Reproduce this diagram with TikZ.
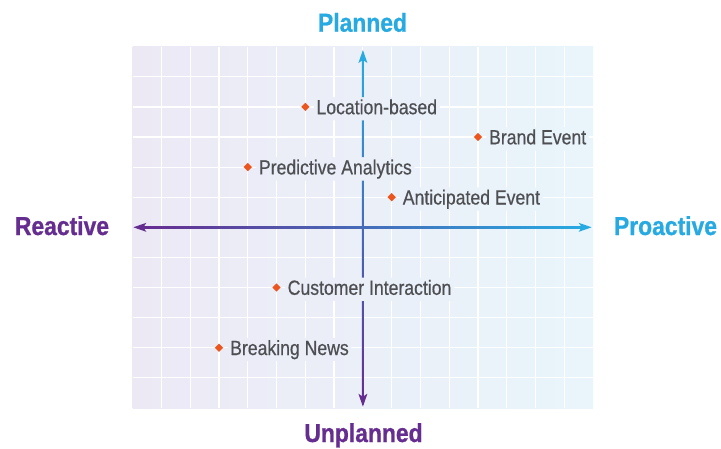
\documentclass[tikz,border=0pt]{standalone}
\usepackage{fontspec}
\setmainfont[FakeStretch=0.86,FakeBold=0.5]{Liberation Sans}
\newfontfamily\headfont[FakeStretch=0.88,BoldFeatures={FakeBold=0.8}]{Liberation Sans}
\usetikzlibrary{shapes.geometric,calc}

\definecolor{axpurple}{RGB}{102,45,145}
\definecolor{axcyan}{RGB}{39,170,225}
\definecolor{labgray}{RGB}{78,79,83}
\definecolor{dotorange}{RGB}{236,85,30}
\definecolor{bgleft}{RGB}{236,233,245}
\definecolor{bgright}{RGB}{233,245,251}

\tikzset{
  marker/.style={diamond, fill=dotorange, minimum width=8.5pt, minimum height=8.5pt, inner sep=0pt},
  pointlabel/.style={anchor=base west, text=labgray, font=\fontsize{20.5}{23}\selectfont,
    text height=15pt, text depth=4pt, inner xsep=2.5pt, inner ysep=2pt},
  heading/.style={anchor=base, font=\headfont\bfseries\fontsize{26}{29}\selectfont},
  gridline/.style={white, line width=1.2pt},
}

\begin{document}
\begin{tikzpicture}[x=1pt,y=-1pt]
  \useasboundingbox (0,0) rectangle (721,448);
  \fill[white] (0,0) rectangle (721,448);

  % plotting field
  \shade[left color=bgleft, right color=bgright] (132.7,46.7) rectangle (593,408);

  % axis ends
  \coordinate (W) at (133.3,227.3);
  \coordinate (E) at (591.7,227.3);
  \coordinate (N) at (362.9,50);
  \coordinate (S) at (362.9,406.7);

  % positions of the plotted items (grid column, row)
  \coordinate (c1) at ({132.7+6*28.77},{46.7+2*30.1});
  \coordinate (c2) at ({132.7+12*28.77},{46.7+3*30.1});
  \coordinate (c3) at ({132.7+4*28.77},{46.7+4*30.1});
  \coordinate (c4) at ({132.7+9*28.77},{46.7+5*30.1});
  \coordinate (c5) at ({132.7+5*28.77},{46.7+8*30.1});
  \coordinate (c6) at ({132.7+3*28.77},{46.7+10*30.1});

  % item labels
  \node[pointlabel] (l1) at ($(c1)+(8.5,7.3)$) {Location-based};
  \node[pointlabel] (l2) at ($(c2)+(8.5,7.3)$) {Brand Event};
  \node[pointlabel] (l3) at ($(c3)+(8.5,7.3)$) {Predictive Analytics};
  \node[pointlabel] (l4) at ($(c4)+(8.5,7.3)$) {Anticipated Event};
  \node[pointlabel] (l5) at ($(c5)+(8.5,7.3)$) {Customer Interaction};
  \node[pointlabel] (l6) at ($(c6)+(8.5,7.3)$) {Breaking News};

  % grid and axes, kept clear of the label boxes
  \begin{scope}[even odd rule]
    \clip (0,0) rectangle (721,448)
      (l1.south west) rectangle (l1.north east)
      (l2.south west) rectangle (l2.north east)
      (l3.south west) rectangle (l3.north east)
      (l4.south west) rectangle (l4.north east)
      (l5.south west) rectangle (l5.north east)
      (l6.south west) rectangle (l6.north east);
    \foreach \i in {1,...,15}
      \draw[gridline] ({132.7+\i*28.77},46.7) -- ({132.7+\i*28.77},408);
    \foreach \j in {1,...,11}
      \draw[gridline] (132.7,{46.7+\j*30.1}) -- (593,{46.7+\j*30.1});

    % horizontal axis
    \shade[left color=axpurple, right color=axcyan]
      ($(W)+(9,-1)$) rectangle ($(E)+(-9,1)$);
    \fill[axpurple] (W) -- ++(13,-4.5) -- ++(-3,4.5) -- ++(3,4.5) -- cycle;
    \fill[axcyan] (E) -- ++(-13,-4.5) -- ++(3,4.5) -- ++(-3,4.5) -- cycle;

    % vertical axis
    \shade[top color=axcyan, bottom color=axpurple]
      ($(N)+(-1,9)$) rectangle ($(S)+(1,-9)$);
    \fill[axcyan] (N) -- ++(-4.5,13) -- ++(4.5,-3) -- ++(4.5,3) -- cycle;
    \fill[axpurple] (S) -- ++(-4.5,-13) -- ++(4.5,3) -- ++(4.5,-3) -- cycle;
  \end{scope}

  % item markers
  \foreach \k in {1,...,6}
    \node[marker] (d\k) at (c\k) {};

  % axis headings
  \node[heading, text=axcyan] (planned) at (362.5,31.7) {Planned};
  \node[heading, text=axpurple] (unplanned) at (363.5,442) {Unplanned};
  \node[heading, text=axpurple] (reactive) at (62,235) {Reactive};
  \node[heading, text=axcyan] (proactive) at (665.5,235) {Proactive};
\end{tikzpicture}
\end{document}
